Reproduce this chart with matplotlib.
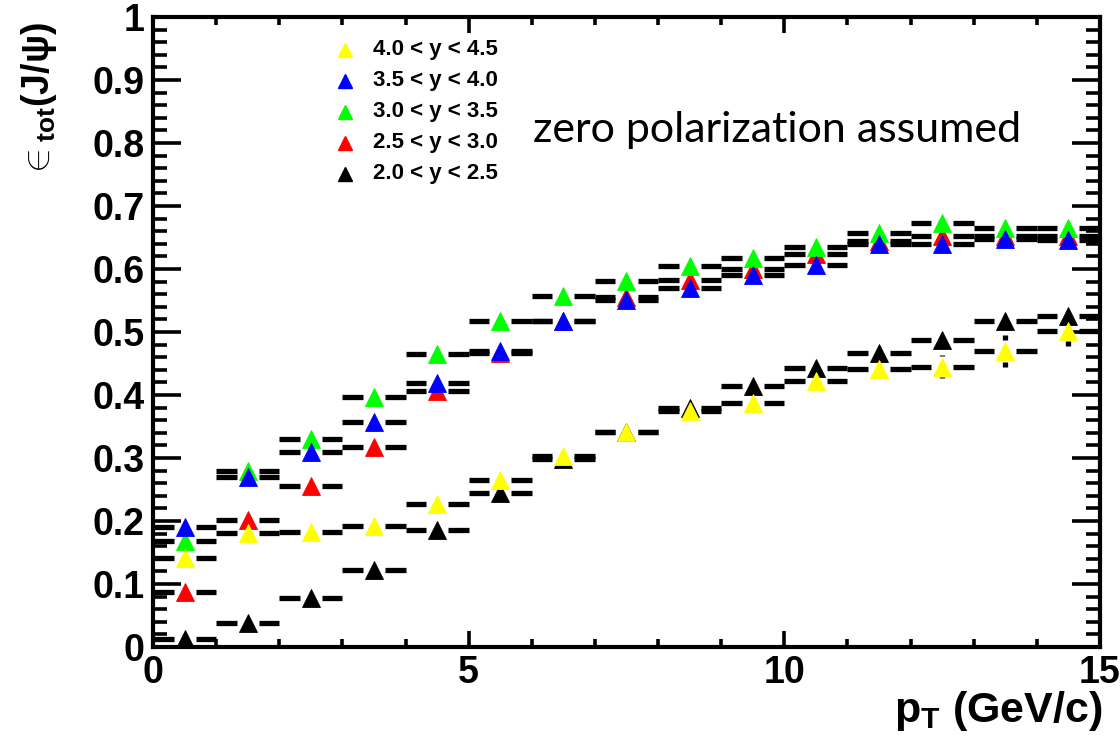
import numpy as np
import matplotlib.pyplot as plt
from matplotlib.ticker import MultipleLocator, FuncFormatter

plt.rcParams['font.family'] = ['Liberation Sans', 'DejaVu Sans']
plt.rcParams['mathtext.fontset'] = 'custom'
plt.rcParams['mathtext.rm'] = 'Liberation Sans'
plt.rcParams['mathtext.bf'] = 'Liberation Sans:bold'
plt.rcParams['mathtext.it'] = 'Liberation Sans:italic'

# pT bins (GeV/c), 1 GeV wide
pt_centers = np.arange(0.5, 15.0, 1.0)
pt_halfwidth = 0.5

# total efficiency per rapidity bin
eff_y20_25 = [0.012, 0.038, 0.078, 0.122, 0.186, 0.245, 0.298, 0.342, 0.380,
              0.414, 0.443, 0.467, 0.487, 0.517, 0.525]
eff_y25_30 = [0.087, 0.202, 0.256, 0.317, 0.406, 0.467, 0.518, 0.556, 0.583,
              0.600, 0.623, 0.645, 0.652, 0.652, 0.652]
eff_y30_35 = [0.168, 0.280, 0.330, 0.397, 0.465, 0.517, 0.557, 0.581, 0.604,
              0.617, 0.635, 0.657, 0.673, 0.665, 0.665]
eff_y35_40 = [0.190, 0.270, 0.310, 0.357, 0.419, 0.470, 0.517, 0.551, 0.570,
              0.590, 0.606, 0.640, 0.639, 0.647, 0.646]
eff_y40_45 = [0.141, 0.181, 0.183, 0.192, 0.227, 0.265, 0.303, 0.341, 0.375,
              0.388, 0.422, 0.441, 0.445, 0.470, 0.502]

err_y20_25 = [0.004, 0.004, 0.004, 0.004, 0.004, 0.004, 0.004, 0.004, 0.005,
              0.005, 0.006, 0.008, 0.008, 0.010, 0.012]
err_y25_30 = [0.004] * 15
err_y30_35 = [0.004] * 15
err_y35_40 = [0.004] * 15
err_y40_45 = [0.004, 0.004, 0.004, 0.004, 0.004, 0.004, 0.005, 0.006, 0.008,
              0.010, 0.012, 0.012, 0.018, 0.025, 0.025]

series_labels = ['2.0 < y < 2.5', '2.5 < y < 3.0', '3.0 < y < 3.5',
                 '3.5 < y < 4.0', '4.0 < y < 4.5']
series_colors = ['#000000', '#ff0000', '#00ff00', '#0000ff', '#ffff00']

XGAP = 0.175   # gap left for the marker in the error bars
YGAP = 0.017
BAR_LW = 3.8
MS = 13.5


def draw_series(ax, x, y, yerr, color, z):
    y = np.asarray(y)
    yerr = np.asarray(yerr)
    kw = dict(colors='black', lw=BAR_LW, zorder=z, capstyle='butt')
    ax.hlines(y, x - pt_halfwidth, x - XGAP, **kw)
    ax.hlines(y, x + XGAP, x + pt_halfwidth, **kw)
    big = yerr > YGAP
    if big.any():
        ax.vlines(x[big], y[big] + YGAP, y[big] + yerr[big], **kw)
        ax.vlines(x[big], y[big] - yerr[big], y[big] - YGAP, **kw)
    ax.plot(x, y, ls='none', marker='^', ms=MS, color=color, mec=color,
            mew=0.6, zorder=z + 0.5)


fig = plt.figure(figsize=(11.2, 7.44), dpi=100)
ax = fig.add_axes([0.1366, 0.1304, 0.8455, 0.8468])

all_eff = [eff_y20_25, eff_y25_30, eff_y30_35, eff_y35_40, eff_y40_45]
all_err = [err_y20_25, err_y25_30, err_y30_35, err_y35_40, err_y40_45]
for i, (eff, err, col) in enumerate(zip(all_eff, all_err, series_colors)):
    draw_series(ax, pt_centers, eff, err, col, 2 + i)

ax.set_xlim(0, 15)
ax.set_ylim(0, 1)

# ROOT-like axes
for sp in ax.spines.values():
    sp.set_linewidth(3.0)
ax.xaxis.set_major_locator(MultipleLocator(5))
ax.xaxis.set_minor_locator(MultipleLocator(1))
ax.yaxis.set_major_locator(MultipleLocator(0.1))
ax.yaxis.set_minor_locator(MultipleLocator(0.02))
ax.yaxis.set_major_formatter(FuncFormatter(lambda v, p: f'{v:g}'))
ax.tick_params(which='both', direction='in', top=True, right=True, width=2.6,
               labelsize=27)
ax.tick_params(axis='y', which='major', length=20, pad=6)
ax.tick_params(axis='y', which='minor', length=10)
ax.tick_params(axis='x', which='major', length=11.5, pad=6)
ax.tick_params(axis='x', which='minor', length=6)
for lab in ax.get_xticklabels() + ax.get_yticklabels():
    lab.set_fontweight('bold')

ax.set_xlabel(r'$\mathbf{p_{T}}$ (GeV/c)', fontsize=31, fontweight='bold')
ax.xaxis.set_label_coords(1.003, -0.066)
ax.xaxis.label.set_horizontalalignment('right')
ax.xaxis.label.set_verticalalignment('top')

ax.set_ylabel(r'$\in_{\mathbf{tot}}\mathbf{(J/\psi)}$', fontsize=27)
ax.yaxis.set_label_coords(-0.12, 0.868)
ax.yaxis.label.set_verticalalignment('center')
ax.yaxis.label.set_rotation_mode('anchor')

# legend, drawn like the ROOT TLegend (highest rapidity first)
for k, idx in enumerate([4, 3, 2, 1, 0]):
    yy = 0.948 - k * 0.0493
    ax.plot([0.203], [yy], transform=ax.transAxes, ls='none', marker='^',
            ms=10.5, color=series_colors[idx], clip_on=False, zorder=10)
    ax.text(0.232, yy, series_labels[idx], transform=ax.transAxes,
            fontsize=16, fontweight='bold', va='center', ha='left')

ax.text(0.401, 0.802, 'zero polarization assumed', transform=ax.transAxes,
        family=['Lato', 'DejaVu Sans'], fontsize=31, va='baseline', ha='left')

fig.savefig('out.png', dpi=100)
